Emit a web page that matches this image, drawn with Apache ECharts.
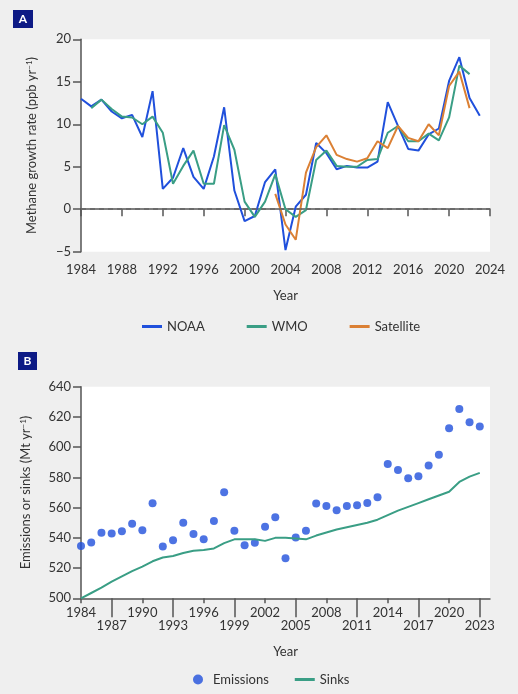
<!DOCTYPE html>
<html>
<head>
<meta charset="utf-8">
<script src="https://cdn.jsdelivr.net/npm/echarts@6/dist/echarts.min.js"></script>
<style>
html,body{margin:0;padding:0;background:#efefef;}
#chart{width:518px;height:694px;}
</style>
</head>
<body>
<div id="chart"></div>
<script>
// ---- Panel A data (ppb/yr) ----
const noaaYears = [1984,1985,1986,1987,1988,1989,1990,1991,1992,1993,1994,1995,1996,1997,1998,1999,2000,2001,2002,2003,2004,2005,2006,2007,2008,2009,2010,2011,2012,2013,2014,2015,2016,2017,2018,2019,2020,2021,2022,2023];
const noaaValues = [13.0,12.1,12.9,11.5,10.7,11.1,8.5,13.9,2.4,3.7,7.2,3.8,2.4,6.2,12.0,2.2,-1.4,-0.8,3.2,4.7,-4.8,0.3,1.7,7.8,6.6,4.7,5.1,4.9,4.9,5.6,12.6,9.8,7.1,6.9,8.8,9.5,15.1,17.9,13.1,11.0];
const wmoYears = [1985,1986,1987,1988,1989,1990,1991,1992,1993,1994,1995,1996,1997,1998,1999,2000,2001,2002,2003,2004,2005,2006,2007,2008,2009,2010,2011,2012,2013,2014,2015,2016,2017,2018,2019,2020,2021,2022];
const wmoValues = [11.9,12.9,11.8,10.9,10.8,10.0,10.9,9.0,3.0,5.1,6.9,3.0,3.0,9.9,7.0,0.9,-0.9,0.9,4.1,0.0,-0.9,-0.1,5.8,6.9,5.1,5.0,5.0,5.8,5.9,9.0,9.8,8.0,8.0,8.9,8.1,10.8,16.9,15.9];
const satYears = [2003,2004,2005,2006,2007,2008,2009,2010,2011,2012,2013,2014,2015,2016,2017,2018,2019,2020,2021,2022];
const satValues = [1.8,-1.8,-3.6,4.3,7.3,8.7,6.4,5.9,5.6,6.0,8.0,7.2,9.8,8.4,8.0,10.0,8.7,14.5,16.2,11.9];

// ---- Panel B data (Mt/yr) ----
const bYears = [1984,1985,1986,1987,1988,1989,1990,1991,1992,1993,1994,1995,1996,1997,1998,1999,2000,2001,2002,2003,2004,2005,2006,2007,2008,2009,2010,2011,2012,2013,2014,2015,2016,2017,2018,2019,2020,2021,2022,2023];
const emissions = [534.6,537,543.4,542.8,544.3,549.4,545,562.9,534.2,538.4,550,542.5,539,551.2,570.2,544.7,535.1,536.8,547.4,553.6,526.5,540.3,544.7,562.8,561.1,558.2,561.1,561.5,563,566.8,588.9,584.9,579.4,580.7,587.8,595,612.5,625.2,616.4,613.7];
const sinks = [500,503.5,507,511,514.5,518,521,524.5,527,528,530,531.5,532,533,536.5,539,539,539,538,540,540,539.5,539,541.5,543.5,545.5,547,548.5,550,552,555,558,560.5,563,565.5,568,570.5,577,580.5,583];
const bAxisYears = [1984,1985,1986,1987,1988,1989,1990,1991,1992,1993,1994,1995,1996,1997,1998,1999,2000,2001,2002,2003,2004,2005,2006,2007,2008,2009,2010,2011,2012,2013,2014,2015,2016,2017,2018,2019,2020,2021,2022,2023,2024];

const BLUE = '#2050dc', GREEN = '#3a9e85', ORANGE = '#db8034';
const TXT = '#333', AX = '#555', FONT = 'Lato';

const pairs = (xs, vs) => xs.map((x, i) => [x, vs[i]]);
const catPairs = (xs, vs) => xs.map((x, i) => [String(x), vs[i]]);
const minus = v => String(v).replace('-', '\u2212');

const chart = echarts.init(document.getElementById('chart'), null, {renderer: 'canvas'});
const axLine = {show: true, lineStyle: {color: AX, width: 1.5}};
const lbl = {color: TXT, fontSize: 13, fontFamily: FONT};

chart.setOption({
  backgroundColor: '#efefef',
  textStyle: {fontFamily: FONT},
  animation: false,
  graphic: [
    {type: 'rect', shape: {x: 13, y: 10, width: 20, height: 18}, style: {fill: '#0d1a85'}},
    {type: 'text', x: 23, y: 19, style: {text: 'A', fill: '#fff', font: 'bold 12px Lato', textAlign: 'center', textVerticalAlign: 'middle'}},
    {type: 'rect', shape: {x: 18, y: 352, width: 19, height: 18}, style: {fill: '#0d1a85'}},
    {type: 'text', x: 27.5, y: 361, style: {text: 'B', fill: '#fff', font: 'bold 12px Lato', textAlign: 'center', textVerticalAlign: 'middle'}}
  ],
  grid: [
    {left: 81, top: 39.3, width: 409, height: 212.4, show: true, backgroundColor: '#fff', borderWidth: 0},
    {left: 81, top: 386.7, width: 409, height: 211.6, show: true, backgroundColor: '#fff', borderWidth: 0}
  ],
  legend: [
    {left: 137, top: 315, itemWidth: 20, itemHeight: 3, itemGap: 42, icon: 'rect',
     textStyle: lbl, data: ['NOAA', 'WMO', 'Satellite']},
    {left: 188, top: 668, itemWidth: 20, itemHeight: 10, itemGap: 26, textStyle: lbl,
     data: [{name: 'Emissions', icon: 'circle'}, {name: 'Sinks', icon: 'path://M0,0 L20,0 L20,3 L0,3 Z'}]}
  ],
  xAxis: [
    {type: 'value', gridIndex: 0, min: 1984, max: 2024, interval: 4,
     name: 'Year', nameLocation: 'middle', nameGap: 38, nameTextStyle: lbl,
     axisLine: axLine, axisTick: {show: true, length: 7, lineStyle: {color: AX, width: 1.5}},
     axisLabel: Object.assign({margin: 12, formatter: v => String(v)}, lbl), splitLine: {show: false}},
    {type: 'category', gridIndex: 1, data: bAxisYears.map(String), boundaryGap: false,
     name: 'Year', nameLocation: 'middle', nameGap: 47, nameTextStyle: lbl,
     axisLine: axLine,
     axisTick: {show: true, length: 5, interval: (i) => i % 6 === 0 && i < 40, lineStyle: {color: AX, width: 1.5}},
     axisLabel: Object.assign({margin: 8, interval: (i) => i % 6 === 0 && i < 40}, lbl),
     splitLine: {show: false}},
    {type: 'category', gridIndex: 1, position: 'bottom', data: bAxisYears.map(String), boundaryGap: false,
     axisLine: {show: false},
     axisTick: {show: true, length: 19, interval: (i) => i % 6 === 3, lineStyle: {color: AX, width: 1.5}},
     axisLabel: Object.assign({margin: 21, interval: (i) => i % 6 === 3}, lbl),
     splitLine: {show: false}}
  ],
  yAxis: [
    {type: 'value', gridIndex: 0, min: -5, max: 20, interval: 5,
     name: 'Methane growth rate (ppb yr{s|\u22121})', nameLocation: 'middle', nameGap: 42,
     nameTextStyle: Object.assign({rich: {s: {fontSize: 8, fontFamily: FONT, color: TXT, verticalAlign: 'top', padding: [0, 0, 6, 0]}}}, lbl),
     axisLine: axLine, axisTick: {show: true, length: 8, lineStyle: {color: AX, width: 1.5}},
     axisLabel: Object.assign({margin: 10, formatter: minus}, lbl), splitLine: {show: false}},
    {type: 'value', gridIndex: 1, min: 500, max: 640, interval: 20,
     name: 'Emissions or sinks (Mt yr{s|\u22121})', nameLocation: 'middle', nameGap: 48,
     nameTextStyle: Object.assign({rich: {s: {fontSize: 8, fontFamily: FONT, color: TXT, verticalAlign: 'top', padding: [0, 0, 6, 0]}}}, lbl),
     axisLine: axLine, axisTick: {show: true, length: 8, lineStyle: {color: AX, width: 1.5}},
     axisLabel: Object.assign({margin: 10}, lbl), splitLine: {show: false}}
  ],
  series: [
    {name: 'NOAA', type: 'line', xAxisIndex: 0, yAxisIndex: 0, data: pairs(noaaYears, noaaValues),
     showSymbol: false, symbol: 'none', color: BLUE, lineStyle: {width: 2, color: BLUE},
     markLine: {silent: true, symbol: 'none', label: {show: false},
       lineStyle: {color: '#666', type: [5, 4], width: 1.5}, data: [{yAxis: 0}]}},
    {name: 'WMO', type: 'line', xAxisIndex: 0, yAxisIndex: 0, data: pairs(wmoYears, wmoValues),
     showSymbol: false, symbol: 'none', color: GREEN, lineStyle: {width: 2, color: GREEN}},
    {name: 'Satellite', type: 'line', xAxisIndex: 0, yAxisIndex: 0, data: pairs(satYears, satValues),
     showSymbol: false, symbol: 'none', color: ORANGE, lineStyle: {width: 2, color: ORANGE}},
    {name: 'Sinks', type: 'line', xAxisIndex: 1, yAxisIndex: 1, data: catPairs(bYears, sinks),
     showSymbol: false, symbol: 'none', color: GREEN, lineStyle: {width: 2, color: GREEN}},
    {name: 'Emissions', type: 'scatter', xAxisIndex: 1, yAxisIndex: 1, data: catPairs(bYears, emissions),
     symbol: 'circle', symbolSize: 8, color: BLUE, itemStyle: {color: BLUE}}
  ]
});
</script>
</body>
</html>
